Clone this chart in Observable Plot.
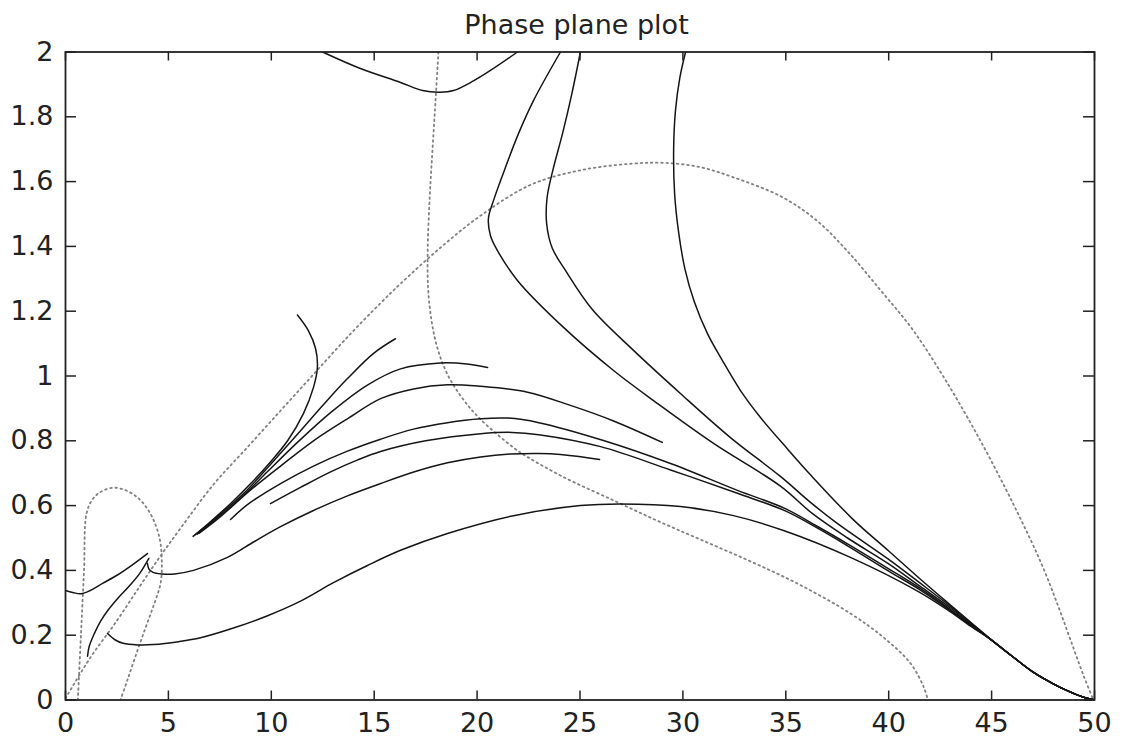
<!DOCTYPE html>
<html>
<head>
<meta charset="utf-8">
<script src="https://cdn.jsdelivr.net/npm/d3@7"></script>
<script src="https://cdn.jsdelivr.net/npm/@observablehq/plot@0.6"></script>
<style>
  html, body { margin: 0; padding: 0; background: #fff; }
  #wrap { position: relative; width: 1127px; height: 742px; overflow: hidden; background: #fff; }
  #title { position: absolute; left: 62px; top: 5px; width: 1029px; height: 40px; line-height: 40px;
           text-align: center; font-family: "DejaVu Sans", sans-serif; font-size: 27px; color: #222; }
  #chart { position: absolute; left: 0; top: 40px; }
</style>
</head>
<body>
<div id="wrap">
  <div id="title">Phase plane plot</div>
  <div id="chart"></div>
</div>
<script>
// ---- tick values ----
const xTicks = [0, 5, 10, 15, 20, 25, 30, 35, 40, 45, 50];
const yTicks = [0, 0.2, 0.4, 0.6, 0.8, 1, 1.2, 1.4, 1.6, 1.8, 2];

// ---- trajectories (solid), [x, y] pairs ----
const trajA = [[12.49,2.0],[14.33,1.949],[16.28,1.906],[17.35,1.881],[18.2,1.876],[18.85,1.881],[19.8,1.91],[20.65,1.943],[21.96,2.0]];
const trajB = [[24.05,2.0],[22.74,1.85],[22.01,1.748],[21.38,1.644],[20.8,1.542],[20.55,1.486],[20.65,1.433],[20.99,1.387],[21.96,1.295],[24.2,1.15],[26.63,1.017],[28.77,0.915],[31.49,0.792],[34.74,0.66],[36.3,0.575],[38,0.5],[40,0.42],[41.5,0.352],[43,0.284],[44,0.234]];
const trajC = [[25.02,2.0],[24.6,1.87],[24.15,1.748],[23.7,1.64],[23.4,1.55],[23.38,1.47],[23.65,1.395],[24.3,1.325],[25.6,1.205],[27.6,1.079],[29.88,0.946],[32.31,0.81],[34.74,0.69],[36.2,0.61],[37.5,0.545],[40,0.434],[41.5,0.362],[43,0.289],[44,0.237]];
const trajD = [[30.13,2.0],[29.85,1.92],[29.64,1.82],[29.55,1.7],[29.6,1.56],[29.8,1.44],[30.1,1.33],[30.55,1.23],[31.2,1.13],[31.9,1.05],[32.8,0.955],[33.77,0.872],[35.08,0.775],[36.2,0.695],[38.29,0.556],[40,0.46],[41.5,0.375],[43,0.293],[44,0.239]];
const trajE = [[6.2,0.505],[7.0,0.548],[8.0,0.605],[9.0,0.668],[10.0,0.738],[10.8,0.801],[11.56,0.884],[12.05,0.965],[12.24,1.026],[12.15,1.085],[11.8,1.14],[11.27,1.188]];
const trajF = [[6.3,0.51],[7.2,0.556],[8.65,0.637],[9.96,0.727],[11.27,0.82],[12.54,0.912],[13.7,0.992],[14.97,1.07],[16.03,1.115]];
const trajG = [[6.4,0.512],[7.2,0.552],[8.5,0.622],[9.82,0.705],[11.27,0.795],[12.88,0.887],[14.67,0.972],[16.28,1.022],[18.22,1.04],[19.5,1.037],[20.51,1.026]];
const trajH = [[6.5,0.515],[7.53,0.566],[8.84,0.64],[10.45,0.722],[12.05,0.8],[13.7,0.868],[15.31,0.93],[16.91,0.96],[18.56,0.973],[20.17,0.968],[22.45,0.95],[24.5,0.91],[26.6,0.862],[29.0,0.795]];
const trajI = [[8.02,0.557],[8.84,0.603],[10.45,0.668],[12.05,0.722],[13.7,0.768],[15.31,0.805],[16.91,0.836],[18.56,0.856],[20.17,0.868],[21.5,0.87],[23,0.856],[26.14,0.801],[29.4,0.73],[32.65,0.647],[35.0,0.59],[36.5,0.537],[38,0.482],[40,0.405],[41.5,0.346],[43,0.279],[44,0.231]];
const trajJ = [[9.96,0.606],[11.42,0.656],[12.88,0.704],[14.2,0.741],[15.31,0.767],[17.5,0.8],[20.17,0.822],[21.7,0.826],[23,0.819],[26.0,0.782],[29.4,0.71],[32.65,0.638],[35.0,0.583],[36.5,0.532],[38,0.476],[40,0.398],[41.5,0.341],[43,0.276],[44,0.229]];
const trajM = [[3.98,0.422],[4.05,0.405],[4.25,0.394],[4.7,0.389],[5.3,0.389],[6.22,0.4],[7.87,0.44],[9.2,0.49],[10.45,0.535],[12.05,0.585],[13.7,0.63],[15.31,0.668],[17.0,0.705],[18.56,0.732],[20.17,0.75],[21.62,0.759],[23.0,0.761],[24.05,0.758],[25.95,0.742]];
const trajL = [[2.04,0.205],[2.4,0.186],[2.8,0.175],[3.5,0.17],[4.28,0.171],[5.5,0.18],[6.56,0.192],[8.16,0.222],[9.82,0.26],[11.42,0.305],[13.02,0.362],[14.67,0.415],[16.28,0.462],[18.56,0.514],[21.77,0.569],[25.02,0.6],[26.97,0.605],[29.88,0.597],[32.46,0.569],[34.89,0.523],[38.14,0.44],[41.4,0.336],[43,0.272],[44,0.227]];
const trajN = [[0,0.338],[0.35,0.332],[0.75,0.328],[1.2,0.338],[1.8,0.36],[2.5,0.385],[3.2,0.415],[3.98,0.452]];
const trajO = [[1.07,0.135],[1.15,0.165],[1.4,0.205],[1.7,0.243],[2.1,0.28],[2.6,0.318],[3.1,0.352],[3.6,0.39],[4.05,0.437]];
// shared approach to the point (50, 0)
const tail = [[45,0.185],[46,0.135],[47,0.087],[48,0.05],[48.7,0.028],[49.4,0.01],[50,0]];

// ---- nullclines (dotted) ----
const nullArc = [[0,0.005],[1.2,0.13],[2.5,0.245],[3.6,0.35],[4.62,0.445],[5.59,0.53],[7.19,0.665],[8.84,0.78],[10.45,0.893],[12.05,1.005],[13.7,1.12],[15.31,1.225],[16.28,1.285],[18.2,1.395],[20.17,1.495],[22.6,1.59],[25.02,1.635],[27.45,1.655],[29.06,1.658],[30.8,1.645],[32.46,1.613],[34.8,1.553],[36.5,1.48],[38,1.385],[39.6,1.265],[41.2,1.14],[42.86,0.977],[44.46,0.8],[45.7,0.65],[46.4,0.56],[47.04,0.475],[47.7,0.378],[48.35,0.27],[48.98,0.16],[49.5,0.07],[49.95,0]];
const nullVert = [[18.12,2.0],[17.98,1.85],[17.83,1.696],[17.69,1.542],[17.6,1.39],[17.62,1.27],[17.8,1.165],[18.1,1.08],[18.6,1.0],[19.3,0.93],[20.17,0.866],[21.77,0.779],[22.45,0.75],[24.2,0.688],[26.63,0.616],[28.77,0.553],[30.86,0.495],[33.28,0.428],[35.7,0.355],[38.14,0.267],[39.75,0.193],[41.06,0.113],[41.7,0.04],[41.9,0]];
const nullLoop = [[0.6,0],[0.75,0.2],[0.9,0.4],[1.02,0.575],[1.3,0.618],[1.7,0.642],[2.3,0.655],[2.9,0.648],[3.5,0.625],[3.98,0.59],[4.35,0.545],[4.6,0.49],[4.68,0.43],[4.62,0.36],[4.3,0.295],[3.9,0.225],[3.4,0.135],[3.0,0.06],[2.67,0]];

const solid = [
  trajA, trajB.concat(tail), trajC.concat(tail), trajD.concat(tail),
  trajE, trajF, trajG, trajH, trajI.concat(tail), trajJ.concat(tail),
  trajM, trajL.concat(tail), trajN, trajO
];
const dotted = [nullArc, nullVert, nullLoop];

const lineOpts = {x: d => d[0], y: d => d[1], curve: "catmull-rom"};

const chart = Plot.plot({
  width: 1127,
  height: 702,
  marginLeft: 65,
  marginRight: 33,
  marginTop: 11.5,
  marginBottom: 42.5,
  x: {domain: [0, 50]},
  y: {domain: [0, 2]},
  style: {fontFamily: "DejaVu Sans, sans-serif", fontSize: "27px", color: "#222", background: "#fff", overflow: "visible"},
  marks: [
    ...dotted.map(d => Plot.line(d, {...lineOpts, stroke: "#808080", strokeWidth: 1.8, strokeDasharray: "1.6,3.6", clip: true})),
    ...solid.map(d => Plot.line(d, {...lineOpts, stroke: "#151515", strokeWidth: 1.5, clip: true})),
    Plot.frame({stroke: "#222", strokeWidth: 1.8}),
    // inward tick marks on all four sides
    Plot.ruleX(xTicks, {x: d => d, insetTop: 639, stroke: "#222", strokeWidth: 1.5}),
    Plot.ruleX(xTicks, {x: d => d, insetBottom: 639, stroke: "#222", strokeWidth: 1.5}),
    Plot.ruleY(yTicks, {y: d => d, insetRight: 1018, stroke: "#222", strokeWidth: 1.5}),
    Plot.ruleY(yTicks, {y: d => d, insetLeft: 1018, stroke: "#222", strokeWidth: 1.5}),
    Plot.axisX(xTicks, {tickSize: 0, tickPadding: 13, tickFormat: d => String(d), fontSize: 27}),
    Plot.axisY(yTicks, {tickSize: 0, tickPadding: 12, tickFormat: d => String(d), fontSize: 27})
  ]
});
document.getElementById("chart").appendChild(chart);
</script>
</body>
</html>
